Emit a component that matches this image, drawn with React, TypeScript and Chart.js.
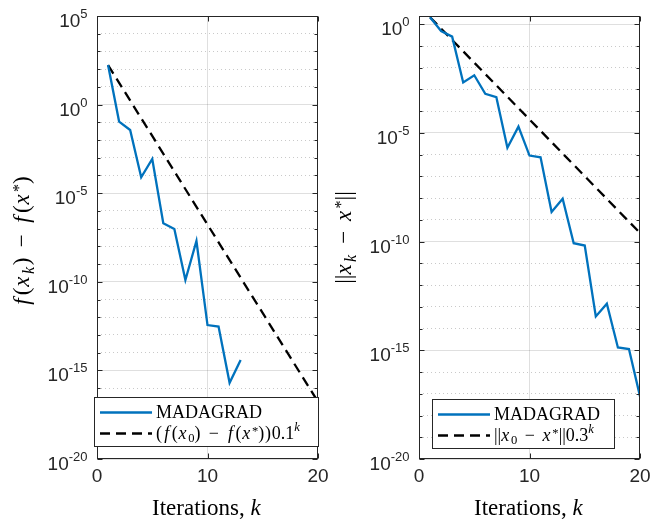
import React, { useEffect, useRef } from 'react';
import { Chart, registerables } from 'chart.js';
Chart.register(...registerables);

// ---------- data ----------
const itersF = [1, 2, 3, 4, 5, 6, 7, 8, 9, 10, 11, 12, 13];
const madagradF = [1.7e2, 1.1e-1, 3.7e-2, 7.9e-5, 8.5e-4, 2.0e-7, 9.5e-8, 1.26e-10, 2.0e-8, 3.6e-13, 2.95e-13, 2.0e-16, 3.9e-15];
const refItersF = [1, 20];
const refF = [1.7e2, 1.7e-17];

const itersX = [1, 2, 3, 4, 5, 6, 7, 8, 9, 10, 11, 12, 13, 14, 15, 16, 17, 18, 19, 20];
const madagradX = [2.1, 4.9e-1, 2.7e-1, 2.1e-3, 4.5e-3, 6.3e-4, 4.4e-4, 2.1e-6, 1.95e-5, 9.1e-7, 7.6e-7, 2.3e-9, 9.3e-9, 8.5e-11, 6.6e-11, 3.6e-14, 1.4e-13, 1.35e-15, 1.15e-15, 7.6e-18];
const refItersX = [1, 20];
const refX = [2.1, 2.5e-10];

const xTicks = [0, 10, 20];
const yDecadesF = [5, 4, 3, 2, 1, 0, -1, -2, -3, -4, -5, -6, -7, -8, -9, -10, -11, -12, -13, -14, -15, -16, -17, -18, -19, -20];
const yDecadesX = [0, -1, -2, -3, -4, -5, -6, -7, -8, -9, -10, -11, -12, -13, -14, -15, -16, -17, -18, -19, -20];
const yLabelsF = [5, 0, -5, -10, -15, -20];
const yLabelsX = [0, -5, -10, -15, -20];

const legendMain = 'MADAGRAD';

type Seg = [string, string?];

const yTitleF: Seg[] = [['f', 'i'], ['('], ['x', 'i'], ['k', 'ib'], [')'], ['−', 'm'], ['f', 'i'], ['('], ['x', 'i'], ['*', 'p'], [')']];
const yTitleX: Seg[] = [['||'], ['x', 'i'], ['k', 'ib'], ['−', 'm'], ['x', 'i'], ['*', 'p'], ['||']];
const xTitle: Seg[] = [['Iterations, '], ['k', 'i']];
const refLabelF: Seg[] = [['('], ['f', 'i'], ['('], ['x', 'i'], ['0', 'b'], [')'], ['−', 'm'], ['f', 'i'], ['('], ['x', 'i'], ['*', 'p'], [')'], [')'], ['0.1'], ['k', 'ip']];
const refLabelX: Seg[] = [['||'], ['x', 'i'], ['0', 'b'], ['−', 'm'], ['x', 'i'], ['*', 'p'], ['||'], ['0.3'], ['k', 'ip']];

// ---------- styles ----------
const BLUE = '#0072BD';
const AXIS = '#262626';
const SERIF = '"Liberation Serif", "Times New Roman", serif';
const SANS = '"Liberation Sans", Arial, sans-serif';

function runSegs(ctx: CanvasRenderingContext2D, segs: Seg[], size: number, draw: boolean, x0: number, y0: number) {
  let x = x0;
  for (const [t, f0] of segs) {
    const f = f0 || '';
    const small = f.includes('b') || f.includes('p');
    const s = small ? size * 0.7 : size;
    const italic = f.includes('i');
    ctx.font = `${italic ? 'italic ' : ''}${s}px ${SERIF}`;
    let dy = 0;
    if (f.includes('b')) dy = size * 0.22;
    if (f.includes('p')) dy = t === '*' ? -size * 0.22 : -size * 0.4;
    if (f.includes('m')) x += size * 0.42;
    if (italic && t === 'f') x += size * 0.08;
    if (draw) ctx.fillText(t, x, y0 + dy);
    x += ctx.measureText(t).width;
    if (italic) x += s * (t === 'f' ? 0.14 : 0.1);
    if (t === '(' || t === ')') x += size * 0.04;
    if (f.includes('m')) x += size * 0.42;
  }
  return x - x0;
}

function drawMath(ctx: CanvasRenderingContext2D, segs: Seg[], size: number, x: number, y: number, align: 'left' | 'center') {
  ctx.textAlign = 'left';
  ctx.textBaseline = 'alphabetic';
  const w = runSegs(ctx, segs, size, false, 0, 0);
  const sx = align === 'center' ? x - w / 2 : x;
  runSegs(ctx, segs, size, true, sx, y);
}

interface Decor {
  yLabels: number[];
  yTitle: Seg[];
  yTitleX: number;
  yTitleY: number;
  refLabel: Seg[];
  legend: { x: number; y: number; w: number; h: number };
}

function makePlugin(d: Decor) {
  return {
    id: 'matlabDecor',
    afterDatasetsDraw(chart: any) {
      const ctx: CanvasRenderingContext2D = chart.ctx;
      const { left, right, top, bottom } = chart.chartArea;
      const L = Math.round(left) + 0.5, R = Math.round(right) - 0.5, T = Math.round(top) + 0.5, B = Math.round(bottom) - 0.5;
      ctx.save();
      ctx.strokeStyle = AXIS;
      ctx.lineWidth = 1;
      ctx.beginPath();
      const ys = chart.scales.y;
      for (const t of ys.ticks) {
        const e = Math.round(Math.log10(t.value));
        const len = e % 5 === 0 ? 5 : 3;
        const py = Math.round(ys.getPixelForValue(t.value)) + 0.5;
        ctx.moveTo(L, py); ctx.lineTo(L + len, py);
        ctx.moveTo(R, py); ctx.lineTo(R - len, py);
      }
      const xs = chart.scales.x;
      for (const t of xs.ticks) {
        const px = Math.round(xs.getPixelForValue(t.value)) + 0.5;
        ctx.moveTo(px, B); ctx.lineTo(px, B - 5);
        ctx.moveTo(px, T); ctx.lineTo(px, T + 5);
      }
      ctx.stroke();
      ctx.strokeRect(L, T, R - L, B - T);
      ctx.restore();
    },
    afterDraw(chart: any) {
      const ctx: CanvasRenderingContext2D = chart.ctx;
      const { left, right, bottom } = chart.chartArea;
      ctx.save();
      ctx.fillStyle = AXIS;
      const ys = chart.scales.y;
      for (const e of d.yLabels) {
        const py = ys.getPixelForValue(Math.pow(10, e));
        const ex = String(e);
        ctx.font = `13px ${SANS}`;
        const we = ctx.measureText(ex).width;
        ctx.font = `19px ${SANS}`;
        const wb = ctx.measureText('10').width;
        const xr = left - 9.5;
        ctx.textAlign = 'left';
        ctx.textBaseline = 'alphabetic';
        ctx.fillText('10', xr - we - wb, py + 11);
        ctx.font = `13px ${SANS}`;
        ctx.fillText(ex, xr - we, py + 2);
      }
      const xs = chart.scales.x;
      ctx.font = `19px ${SANS}`;
      ctx.textAlign = 'center';
      for (const t of xs.ticks) {
        ctx.fillText(String(t.value), xs.getPixelForValue(t.value), bottom + 23);
      }
      ctx.fillStyle = '#000000';
      drawMath(ctx, xTitle, 23, (left + right) / 2, bottom + 56, 'center');
      ctx.save();
      ctx.translate(d.yTitleX, d.yTitleY);
      ctx.rotate(-Math.PI / 2);
      drawMath(ctx, d.yTitle, 23, 0, 0, 'center');
      ctx.restore();
      // legend
      const lg = d.legend;
      ctx.fillStyle = '#ffffff';
      ctx.fillRect(lg.x, lg.y, lg.w, lg.h);
      ctx.strokeStyle = AXIS;
      ctx.lineWidth = 1;
      ctx.strokeRect(lg.x + 0.5, lg.y + 0.5, lg.w - 1, lg.h - 1);
      const ds = chart.data.datasets;
      const rows = [
        { ds: ds[0], y: lg.y + 15.5, segs: [[legendMain]] as Seg[] },
        { ds: ds[1], y: lg.y + 36.5, segs: d.refLabel },
      ];
      for (const r of rows) {
        ctx.save();
        ctx.strokeStyle = r.ds.borderColor;
        ctx.lineWidth = r.ds.borderWidth;
        ctx.setLineDash(r.ds.borderDash || []);
        ctx.beginPath();
        ctx.moveTo(lg.x + 6, r.y);
        ctx.lineTo(lg.x + 58, r.y);
        ctx.stroke();
        ctx.restore();
        ctx.fillStyle = '#000000';
        drawMath(ctx, r.segs, 18, lg.x + 62, r.y + 5, 'left');
      }
      ctx.restore();
    },
  };
}

function makeConfig(opts: {
  iters: number[]; vals: number[]; refIters: number[]; refVals: number[];
  decades: number[]; ymax: number; yWidth: number; padRight: number; decor: Decor;
}): any {
  return {
    type: 'line',
    data: {
      datasets: [
        {
          label: legendMain,
          data: opts.iters.map((k, i) => ({ x: k, y: opts.vals[i] })),
          borderColor: BLUE, borderWidth: 2.3, pointRadius: 0, tension: 0, fill: false,
        },
        {
          label: 'reference',
          data: opts.refIters.map((k, i) => ({ x: k, y: opts.refVals[i] })),
          borderColor: '#000000', borderWidth: 2.3, borderDash: [10, 6], pointRadius: 0, tension: 0, fill: false,
        },
      ],
    },
    options: {
      animation: false,
      responsive: false,
      maintainAspectRatio: false,
      layout: { padding: { top: 16, right: opts.padRight, left: 0, bottom: 0 } },
      plugins: { legend: { display: false }, tooltip: { enabled: false } },
      scales: {
        x: {
          type: 'linear', min: 0, max: 20,
          afterBuildTicks: (s: any) => { s.ticks = xTicks.map((v) => ({ value: v })); },
          afterFit: (s: any) => { s.height = 63; },
          ticks: { display: false },
          grid: {
            drawTicks: false, lineWidth: 1,
            color: (c: any) => (c.tick && c.tick.value === 10 ? 'rgba(38,38,38,0.15)' : 'rgba(0,0,0,0)'),
          },
          border: { display: false },
        },
        y: {
          type: 'logarithmic', min: 1e-20, max: opts.ymax,
          afterBuildTicks: (s: any) => { s.ticks = opts.decades.map((e) => ({ value: Math.pow(10, e) })); },
          afterFit: (s: any) => { s.width = opts.yWidth; },
          ticks: { display: false },
          grid: {
            drawTicks: false, lineWidth: 1,
            color: (c: any) => {
              if (!c.tick) return 'rgba(0,0,0,0)';
              const e = Math.round(Math.log10(c.tick.value));
              return e % 5 === 0 ? 'rgba(38,38,38,0.15)' : 'rgba(38,38,38,0.25)';
            },
          },
          border: {
            display: false,
            dash: (c: any) => {
              if (!c.tick) return [];
              const e = Math.round(Math.log10(c.tick.value));
              return e % 5 === 0 ? [] : [1, 3];
            },
          },
        },
      },
    },
    plugins: [makePlugin(opts.decor)],
  };
}

export default function App() {
  const leftRef = useRef<HTMLCanvasElement>(null);
  const rightRef = useRef<HTMLCanvasElement>(null);
  useEffect(() => {
    const c1 = new Chart(leftRef.current as HTMLCanvasElement, makeConfig({
      iters: itersF, vals: madagradF, refIters: refItersF, refVals: refF,
      decades: yDecadesF, ymax: 1e5, yWidth: 97, padRight: 27,
      decor: {
        yLabels: yLabelsF, yTitle: yTitleF, yTitleX: 29, yTitleY: 241, refLabel: refLabelF,
        legend: { x: 94, y: 397, w: 225, h: 50 },
      },
    }));
    const c2 = new Chart(rightRef.current as HTMLCanvasElement, makeConfig({
      iters: itersX, vals: madagradX, refIters: refItersX, refVals: refX,
      decades: yDecadesX, ymax: 2.4, yWidth: 94, padRight: 10,
      decor: {
        yLabels: yLabelsX, yTitle: yTitleX, yTitleX: 26, yTitleY: 237.5, refLabel: refLabelX,
        legend: { x: 107, y: 399, w: 183, h: 50 },
      },
    }));
    return () => { c1.destroy(); c2.destroy(); };
  }, []);
  return (
    <div style={{ position: 'absolute', left: 0, top: 0, width: 650, height: 522, background: '#fff' }}>
      <canvas ref={leftRef} width={345} height={522} style={{ position: 'absolute', left: 0, top: 0, width: 345, height: 522 }} />
      <canvas ref={rightRef} width={325} height={522} style={{ position: 'absolute', left: 325, top: 0, width: 325, height: 522 }} />
    </div>
  );
}
